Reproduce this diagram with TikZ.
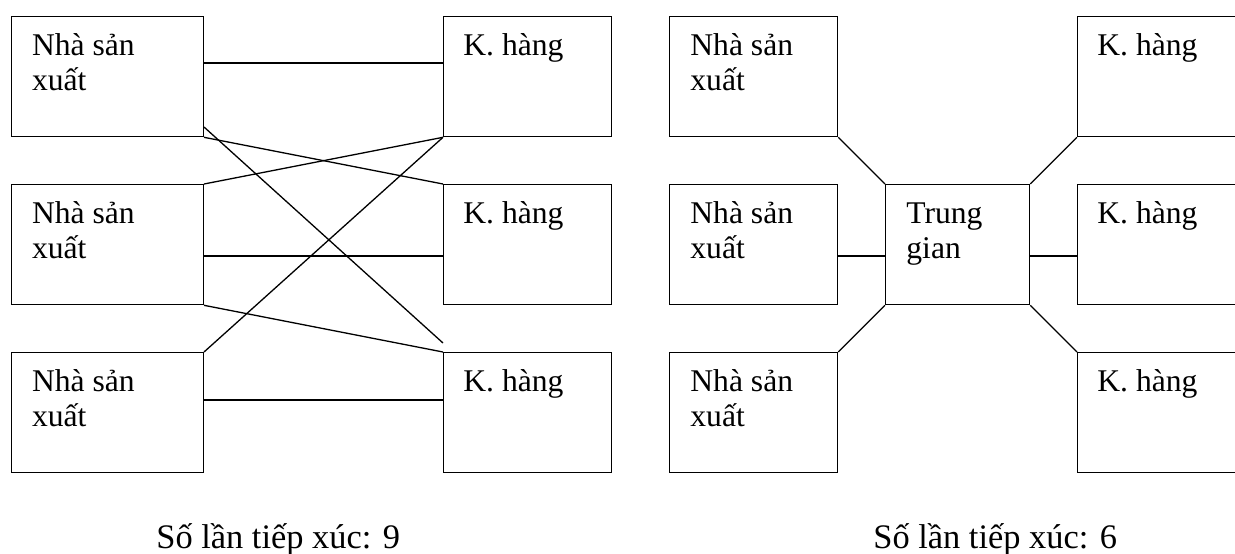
\documentclass[tikz,border=0pt]{standalone}
\usepackage{fontspec}
\setmainfont{Liberation Serif}
\usetikzlibrary{calc}
\begin{document}
\begin{tikzpicture}[x=0.5pt,y=-0.5pt,
  wire/.style={line width=0.65pt},
  pbox/.style={draw,line width=0.65pt,rectangle,inner sep=0pt,anchor=north west,minimum width=96pt,minimum height=60pt},
  kbox/.style={pbox,minimum width=84pt},
  mbox/.style={pbox,minimum width=72pt},
  boxtext/.style={anchor=base west,inner sep=0pt,font=\fontsize{15.8}{17.5}\selectfont},
  caption/.style={anchor=base west,inner sep=0pt,font=\fontsize{17.2}{20}\selectfont}]
\useasboundingbox (0,0) rectangle (1235,553);

% direct links: three producers, three customers
\node[pbox] (pA) at (10.7,16) {};
\node[pbox] (pB) at (10.7,184) {};
\node[pbox] (pC) at (10.7,352) {};
\node[kbox] (kA) at (443,16) {};
\node[kbox] (kB) at (443,184) {};
\node[kbox] (kC) at (443,352) {};

\foreach \b in {pA,pB,pC}
  \node[boxtext] at ($(\b.north west)+(21,39)$) {\begin{tabular}[t]{@{}l@{}}Nhà sản\\xuất\end{tabular}};
\foreach \b in {kA,kB,kC}
  \node[boxtext] at ($(\b.north west)+(20,39)$) {K. hàng};

\draw[wire] ($(pA.north east)+(0,47)$) -- ($(kA.north west)+(0,47)$);
\draw[wire] (pA.south east) -- (kB.north west);
\draw[wire] ($(pA.north east)+(0,111)$) -- ($(kC.north west)+(0,-9)$);
\draw[wire] (pB.north east) -- (kA.south west);
\draw[wire] ($(pB.north east)+(0,72)$) -- ($(kB.north west)+(0,72)$);
\draw[wire] (pB.south east) -- (kC.north west);
\draw[wire] (pC.north east) -- (kA.south west);
\draw[wire] ($(pC.north east)+(0,48)$) -- ($(kC.north west)+(0,48)$);

\node[caption] (cap1) at (156,548) {Số lần tiếp xúc: 9};

% links through an intermediary
\node[kbox] (qA) at (669,16) {};
\node[kbox] (qB) at (669,184) {};
\node[kbox] (qC) at (669,352) {};
\node[mbox] (mid) at (885,184) {};
\node[kbox] (rA) at (1077,16) {};
\node[kbox] (rB) at (1077,184) {};
\node[kbox] (rC) at (1077,352) {};

\foreach \b in {qA,qB,qC}
  \node[boxtext] at ($(\b.north west)+(21,39)$) {\begin{tabular}[t]{@{}l@{}}Nhà sản\\xuất\end{tabular}};
\node[boxtext] at ($(mid.north west)+(21,39)$) {\begin{tabular}[t]{@{}l@{}}Trung\\gian\end{tabular}};
\foreach \b in {rA,rB,rC}
  \node[boxtext] at ($(\b.north west)+(20,39)$) {K. hàng};

\draw[wire] (qA.south east) -- (mid.north west);
\draw[wire] ($(qB.north east)+(0,72)$) -- ($(mid.north west)+(0,72)$);
\draw[wire] (qC.north east) -- (mid.south west);
\draw[wire] (mid.north east) -- (rA.south west);
\draw[wire] ($(mid.north east)+(0,72)$) -- ($(rB.north west)+(0,72)$);
\draw[wire] (mid.south east) -- (rC.north west);

\node[caption] (cap2) at (873,548) {Số lần tiếp xúc: 6};
\end{tikzpicture}
\end{document}
